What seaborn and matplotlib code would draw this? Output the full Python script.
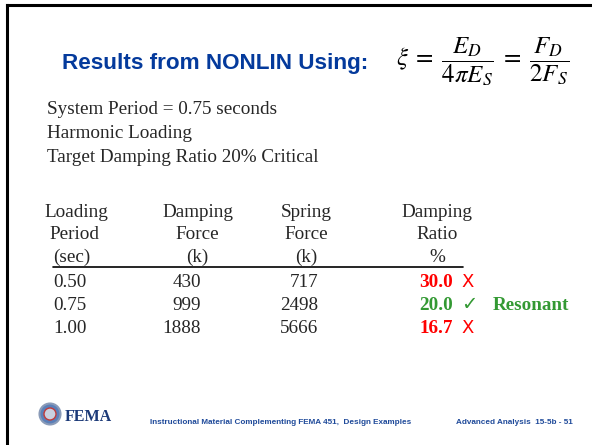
import matplotlib
matplotlib.use("Agg")
import matplotlib.pyplot as plt
from matplotlib.patches import Circle
import seaborn as sns

# ---- data ----
loading_period = ["0.50", "0.75", "1.00"]
damping_force = [430, 999, 1888]
spring_force = [717, 2498, 5666]
damping_ratio = [30.0, 20.0, 16.7]
passes_target = [False, True, False]
header_cols = [["Loading", "Period", "(sec)"],
               ["Damping", "Force", "(k)"],
               ["Spring", "Force", "(k)"],
               ["Damping", "Ratio", "%"]]
info_lines = ["System Period = 0.75 seconds",
              "Harmonic Loading",
              "Target Damping Ratio 20% Critical"]
title = "Results from NONLIN Using:"
equation = r"$\xi\;=\;\dfrac{E_D}{4\pi E_S}\;=\;\dfrac{F_D}{2F_S}$"
footer_mid = "Instructional Material Complementing FEMA 451,  Design Examples"
footer_right = "Advanced Analysis  15-5b - 51"

sns.set_theme(style="white")
plt.rcParams["mathtext.fontset"] = "stix"
plt.rcParams["font.family"] = ["Liberation Serif", "DejaVu Sans"]

fig = plt.figure(figsize=(5.92, 4.45), dpi=100)
ax = fig.add_axes([0, 0, 1, 1])
ax.set_xlim(0, 592)
ax.set_ylim(445, 0)
ax.axis("off")

# slide frame (left and top edges visible)
ax.plot([7, 7], [445, 5], color="black", lw=2.2, solid_capstyle="projecting")
ax.plot([7, 592], [5, 5], color="black", lw=2.2, solid_capstyle="projecting")

BLUE = "#043a9c"
RED = "#ff0000"
GREEN = "#339933"

ax.text(62, 69, title, fontsize=16.2, fontweight="bold", color=BLUE,
        family="Liberation Sans", va="baseline", ha="left")
ax.text(396, 62, equation, fontsize=18, color="black", va="center", ha="left")

body_fs = 13.8
for i, line in enumerate(info_lines):
    ax.text(47, 114 + 24 * i, line, fontsize=body_fs, va="baseline", ha="left")

# table header
hdr_y = [217, 239, 262]
col1_x = [44, 49, 53]
for j, t in enumerate(header_cols[0]):
    ax.text(col1_x[j], hdr_y[j], t, fontsize=body_fs, va="baseline", ha="left")
for j, t in enumerate(header_cols[1]):
    ax.text(197.5, hdr_y[j], t, fontsize=body_fs, va="baseline", ha="center")
for j, t in enumerate(header_cols[2]):
    ax.text(306, hdr_y[j], t, fontsize=body_fs, va="baseline", ha="center")
for j, t in enumerate(header_cols[3]):
    ax.text(437, hdr_y[j], t, fontsize=body_fs, va="baseline", ha="center")

ax.plot([53, 463], [266.5, 266.5], color="black", lw=1.2)

row_y = [287, 310, 333]
for i in range(len(loading_period)):
    y = row_y[i]
    ax.text(53, y, loading_period[i], fontsize=body_fs, va="baseline", ha="left")
    ax.text(201, y, f"{damping_force[i]}", fontsize=body_fs, va="baseline", ha="right")
    ax.text(318, y, f"{spring_force[i]}", fontsize=body_fs, va="baseline", ha="right")
    c = GREEN if passes_target[i] else RED
    ax.text(453, y, f"{damping_ratio[i]:.1f}", fontsize=body_fs, fontweight="bold",
            color=c, va="baseline", ha="right")
    mark = "\u2713" if passes_target[i] else "X"
    ax.text(461, y, mark, fontsize=13 if not passes_target[i] else 14,
            color=c, family="DejaVu Sans", va="baseline", ha="left")
    if passes_target[i]:
        ax.text(493, y, "Resonant", fontsize=body_fs, fontweight="bold",
                color=GREEN, va="baseline", ha="left")

# footer
ax.add_patch(Circle((50, 414), 10.5, facecolor="#5a7fb8", edgecolor="#8a9bb8", lw=1.5))
ax.add_patch(Circle((50, 414), 6, facecolor="#c8d0e0", edgecolor="#c23a3a", lw=1.0))
ax.text(65, 421, "FEMA", fontsize=11.5, fontweight="bold", color="#1c3a78",
        family="Liberation Serif", va="baseline", ha="left")
ax.text(150, 424, footer_mid, fontsize=5.85, fontweight="bold", color="#1f4a9a",
        family="Liberation Sans", va="baseline", ha="left")
ax.text(573, 424, footer_right, fontsize=5.85, fontweight="bold", color="#1f4a9a",
        family="Liberation Sans", va="baseline", ha="right")

fig.savefig("out.png", dpi=100, facecolor="white")
